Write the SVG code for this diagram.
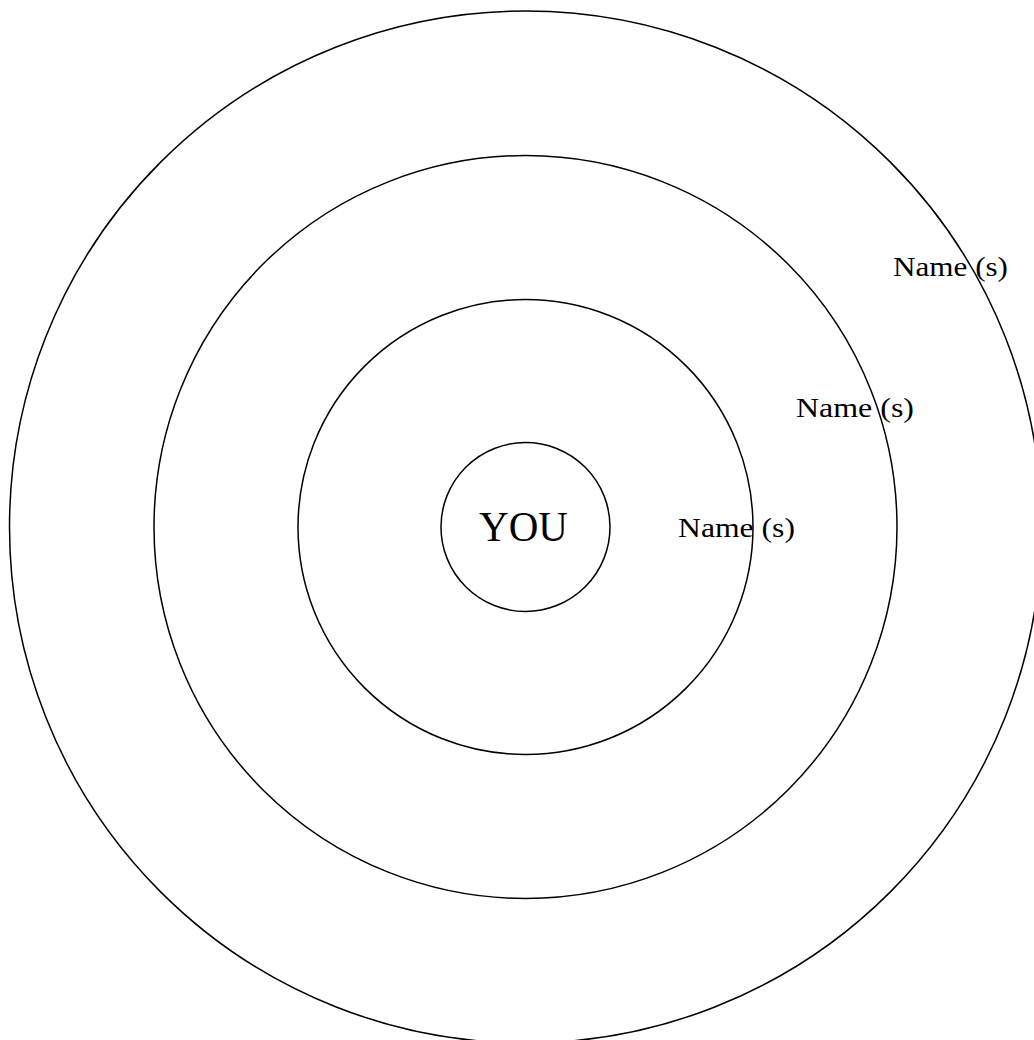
<svg xmlns="http://www.w3.org/2000/svg" width="1034" height="1040" viewBox="0 0 1034 1040">
<style>
.ring{fill:none;stroke:#000;stroke-width:1.5}
.t{font-family:"Liberation Serif","Times New Roman",serif;fill:#000}
.name{font-size:27px}
.you{font-size:42px}
</style>
<rect width="1034" height="1040" fill="#fff"/>
<g id="ring4"><circle class="ring" cx="525.5" cy="527" r="516"/></g>
<g id="ring3"><circle class="ring" cx="525.5" cy="527" r="371.5"/></g>
<g id="ring2"><circle class="ring" cx="525.5" cy="527" r="227.5"/></g>
<g id="you"><circle class="ring" cx="525.5" cy="527" r="84.5"/><text class="t you" x="479" y="541" textLength="89" lengthAdjust="spacingAndGlyphs">YOU</text></g>
<g id="label1"><text class="t name" x="678" y="537" textLength="117" lengthAdjust="spacingAndGlyphs">Name (s)</text></g>
<g id="label2"><text class="t name" x="796" y="417" textLength="118" lengthAdjust="spacingAndGlyphs">Name (s)</text></g>
<g id="label3"><text class="t name" x="893" y="276" textLength="115" lengthAdjust="spacingAndGlyphs">Name (s)</text></g>
<g id="connectors"></g>
</svg>
